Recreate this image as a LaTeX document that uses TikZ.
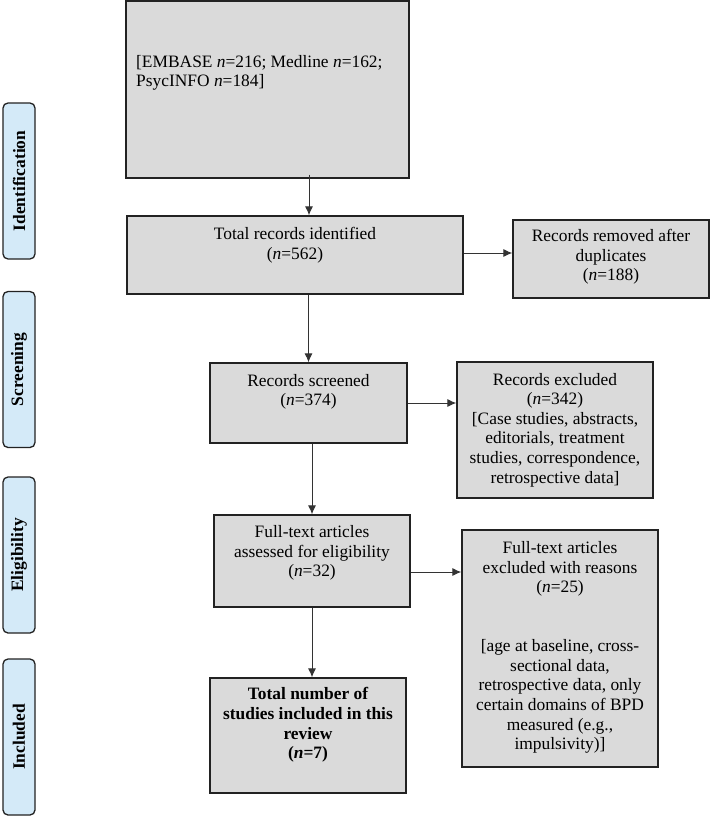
\documentclass[tikz,border=0pt]{standalone}
\usepackage{fontspec}
\setmainfont{Liberation Serif}
\usetikzlibrary{arrows.meta,calc}
\definecolor{boxfill}{HTML}{DADADA}
\definecolor{sidefill}{HTML}{D4EAF8}
\definecolor{edge}{HTML}{222222}
\definecolor{arrowc}{HTML}{333333}
\begin{document}
\begin{tikzpicture}[x=1pt,y=-1pt,
  box/.style={draw=edge,fill=boxfill,line width=1.4pt,rectangle,inner sep=0pt},
  txt/.style={align=center,font=\fontsize{17.4}{19.6}\selectfont,inner sep=0pt},
  side/.style={draw=edge,fill=sidefill,line width=1.3pt,rounded corners=5pt,
    minimum width=32pt,minimum height=156pt,inner sep=0pt},
  sidetxt/.style={rotate=90,font=\fontsize{17.4}{19.6}\selectfont\bfseries,inner sep=0pt},
  arr/.style={draw=arrowc,line width=0.9pt,-{Latex[length=9pt,width=8pt]}}]
\useasboundingbox (0,0) rectangle (710,816);
\fill[white] (0,0) rectangle (710,816);

% side labels
\node[side] (sid) at (19,181) {};
\node[sidetxt] (sidt) at (sid.center) {Identification};
\node[side] (sscr) at (19,369.5) {};
\node[sidetxt] (sscrt) at (sscr.center) {Screening};
\node[side] (selg) at (19,555) {};
\node[sidetxt] (selgt) at (selg.center) {Eligibility};
\node[side] (sinc) at (19,737) {};
\node[sidetxt] (sinct) at (sinc.center) {Included};

% boxes
\node[box,minimum width=283pt,minimum height=177pt] (src) at (267.5,89.5) {};
\node[txt,align=left,anchor=west] (srct) at (136,73) {{}[EMBASE \textit{n}=216; Medline \textit{n}=162;\\PsycINFO \textit{n}=184]};

\node[box,minimum width=336pt,minimum height=78pt] (tot) at (295,255) {};
\node[txt] (tott) at (295,245.5) {Total records identified\\(\textit{n}=562)};

\node[box,minimum width=196pt,minimum height=78pt] (dup) at (611,259) {};
\node[txt] (dupt) at (611,257) {Records removed after\\duplicates\\(\textit{n}=188)};

\node[box,minimum width=197pt,minimum height=80pt] (scr) at (308.5,403) {};
\node[txt] (scrt) at (308.5,392) {Records screened\\(\textit{n}=374)};

\node[box,minimum width=196pt,minimum height=136pt] (exc) at (555,430) {};
\node[txt] (exct) at (555,430) {Records excluded\\(\textit{n}=342)\\{}[Case studies, abstracts,\\editorials, treatment\\studies, correspondence,\\retrospective data]};

\node[box,minimum width=196pt,minimum height=92pt] (ft) at (312,561) {};
\node[txt] (ftt) at (312,553) {Full-text articles\\assessed for eligibility\\(\textit{n}=32)};

\node[box,minimum width=196pt,minimum height=237pt] (ftx) at (560,648.5) {};
\node[txt] (ftxt) at (560,647.5) {Full-text articles\\excluded with reasons\\(\textit{n}=25)\\[19.6pt]\mbox{}\\{}[age at baseline, cross-\\sectional data,\\retrospective data, only\\certain domains of BPD\\measured (e.g.,\\impulsivity)]};

\node[box,minimum width=196pt,minimum height=115pt] (inc) at (308,735.5) {};
\node[txt,font=\fontsize{17.4}{19.6}\selectfont\bfseries] (inct) at (308,725) {Total number of\\studies included in this\\review\\(\textit{n}=7)};

% connectors
\coordinate (srcout) at ($(src.south)+(41.5,-4)$);
\coordinate (totin) at (srcout |- tot.north);
\draw[arr] (srcout) -- (totin);
\draw[arr] ([yshift=2pt]tot.east) -- ([yshift=2pt]tot.east -| dup.west);
\draw[arr] (tot.south -| scr.north) -- (scr.north);
\draw[arr] (scr.east) -- (scr.east -| exc.west);
\draw[arr] (scr.south -| ft.north) -- (ft.north);
\draw[arr] ([yshift=-11pt]ft.east) -- ([yshift=-11pt]ft.east -| ftx.west);
\draw[arr] (ft.south) -- (ft.south |- inc.north);
\end{tikzpicture}
\end{document}
